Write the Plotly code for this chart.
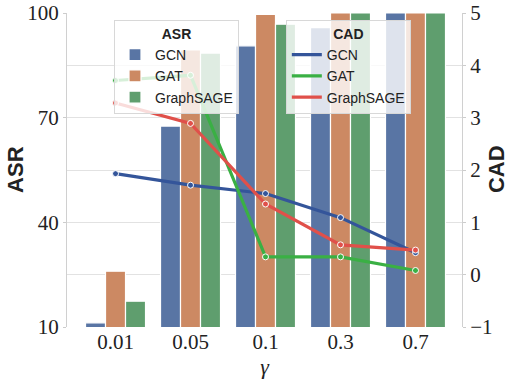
import plotly.graph_objects as go

gammas = ["0.01", "0.05", "0.1", "0.3", "0.7"]
models = ["GCN", "GAT", "GraphSAGE"]

asr_gcn = [11.2, 67.6, 90.6, 95.8, 100.0]
asr_gat = [26.0, 89.4, 99.6, 100.0, 100.0]
asr_sage = [17.4, 88.5, 96.8, 100.0, 100.0]

cad_gcn = [1.93, 1.71, 1.55, 1.09, 0.42]
cad_gat = [3.71, 3.81, 0.34, 0.34, 0.08]
cad_sage = [3.28, 2.89, 1.35, 0.57, 0.47]

bar_colors = ["#5975A4", "#CC8963", "#5F9E6E"]
line_colors = ["#34559A", "#3AB044", "#E0504A"]

SERIF = "Liberation Serif, Times New Roman, serif"
SANS = "Liberation Sans, Arial, sans-serif"

fig = go.Figure()

for name, vals, col in zip(models, [asr_gcn, asr_gat, asr_sage], bar_colors):
    fig.add_trace(go.Bar(
        x=gammas, y=vals, name=name, marker=dict(color=col, line=dict(color="white", width=1.2)),
        legend="legend", yaxis="y", offsetgroup=name,
    ))

for name, vals, col in zip(models, [cad_gcn, cad_gat, cad_sage], line_colors):
    fig.add_trace(go.Scatter(
        x=gammas, y=vals, name=name, mode="lines",
        line=dict(color=col, width=3.2),
        legend="legend2", yaxis="y2",
    ))
for name, vals, col in zip(models, [cad_gcn, cad_gat, cad_sage], line_colors):
    fig.add_trace(go.Scatter(
        x=gammas, y=vals, name=name, mode="markers", showlegend=False,
        marker=dict(size=6, color=col, line=dict(color="white", width=1)),
        yaxis="y2",
    ))

legend_common = dict(
    bgcolor="rgba(255,255,255,0.8)", bordercolor="#d8d8d8", borderwidth=1,
    font=dict(family=SANS, size=14, color="#222"),
    xanchor="left", yanchor="top", tracegroupgap=0, itemwidth=30,
)

title_font = dict(family=SANS, size=22, color="#222", weight="bold")

fig.update_layout(
    width=515, height=381,
    margin=dict(l=67, r=53, t=13, b=54),
    plot_bgcolor="white", paper_bgcolor="white",
    barmode="group", bargap=0.2, bargroupgap=0,
    xaxis=dict(
        type="category", range=[-0.647, 4.62], showgrid=False, ticks="",
        automargin=False,
        tickfont=dict(family=SERIF, size=21, color="#222"),
        title=dict(text="<i>γ</i>", font=dict(family=SERIF, size=22, color="#222"), standoff=0),
        showline=False, zeroline=False,
    ),
    yaxis=dict(
        range=[10, 100], tickvals=[10, 40, 70, 100], showgrid=False, zeroline=False,
        automargin=False, ticklabeloverflow="allow",
        ticks="outside", ticklen=3, tickcolor="#cccccc",
        showline=True, linecolor="#d0d0d0", linewidth=1,
        tickfont=dict(family=SERIF, size=21, color="#222"),
    ),
    yaxis2=dict(
        range=[-1, 5], dtick=1, tick0=-1, overlaying="y", side="right",
        automargin=False, ticklabeloverflow="allow",
        showgrid=True, gridcolor="#e2e2e2", gridwidth=1.3, zeroline=False,
        ticks="outside", ticklen=3, tickcolor="#cccccc",
        showline=True, linecolor="#d0d0d0", linewidth=1,
        tickfont=dict(family=SERIF, size=21, color="#222"),
    ),
    legend=dict(
        x=0.119, y=0.978,
        title=dict(text="ASR", side="top center", font=dict(family=SANS, size=14, color="#222", weight="bold")),
        **legend_common,
    ),
    legend2=dict(
        x=0.554, y=0.978,
        title=dict(text="CAD", side="top center", font=dict(family=SANS, size=14, color="#222", weight="bold")),
        **legend_common,
    ),
    annotations=[
        dict(text="ASR", x=-0.132, y=0.503, xref="paper", yref="paper", textangle=-90,
             showarrow=False, xanchor="center", yanchor="middle", font=title_font),
        dict(text="CAD", x=1.086, y=0.503, xref="paper", yref="paper", textangle=-90,
             showarrow=False, xanchor="center", yanchor="middle", font=title_font),
    ],
)

fig.write_html("out.html", config={"displayModeBar": False},
               post_script="document.body.style.margin='0';")
